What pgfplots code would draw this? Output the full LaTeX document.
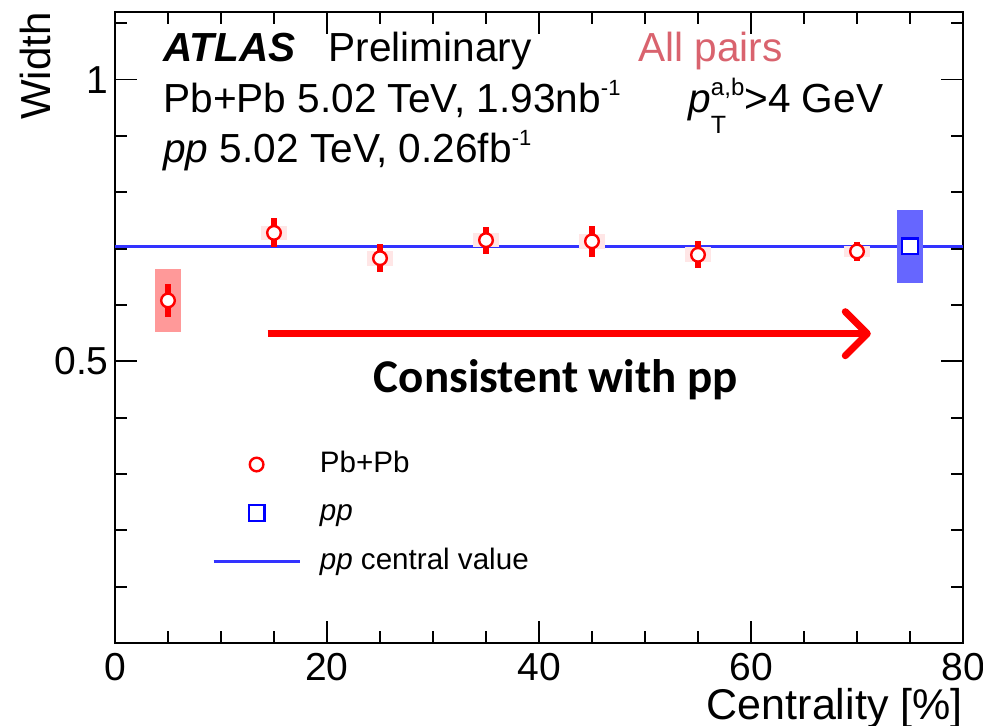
\documentclass[border=0pt]{standalone}
\usepackage{fontspec}
\setmainfont{Liberation Sans}
\newfontfamily\calibri{Carlito}
\usepackage{pgfplots}
\pgfplotsset{compat=1.18}
\usepackage{pgfplotstable}
\usetikzlibrary{arrows.meta}

\definecolor{sysred}{RGB}{255,153,153}
\definecolor{sysredlight}{RGB}{255,230,230}
\definecolor{sysblue}{RGB}{102,102,255}
\definecolor{ppline}{RGB}{51,51,255}
\definecolor{pairs}{RGB}{217,99,110}

% legend images: a single centred mark, or a plain line
\pgfplotsset{
  markimage/.style={legend image code/.code={\path (0pt,0pt) (43pt,0pt);
    \draw[##1] plot coordinates {(21.5pt,0pt)};}},
  lineimage/.style={legend image code/.code={\draw[##1] (0pt,0pt) -- (43pt,0pt);}},
}

% superscript in the header lines
\newcommand{\sups}[1]{\raisebox{8.5pt}{\fontsize{11}{11}\selectfont #1}}

% Pb+Pb widths vs centrality: value, statistical and systematic uncertainty
\pgfplotstableread{
cent width stat sys
5  0.608 0.030 0.056
15 0.728 0.026 0.013
25 0.683 0.025 0.013
35 0.715 0.024 0.013
45 0.713 0.028 0.013
55 0.689 0.024 0.013
70 0.695 0.017 0.010
}\pbpb

% pp reference, drawn beside the centrality bins
\pgfplotstableread{
cent width stat sys
75 0.704 0.0 0.0645
}\pp

\begin{document}
\begin{tikzpicture}
\useasboundingbox (-57.5pt,-41.5pt) rectangle (434pt,321.5pt);
\begin{axis}[
  at={(0pt,0pt)}, anchor=south west,
  scale only axis, width=424pt, height=315.5pt,
  xmin=0, xmax=80, ymin=0, ymax=1.12,
  xtick={0,20,40,60,80}, minor x tick num=3,
  ytick={0.5,1}, minor ytick={0.1,0.2,0.3,0.4,0.6,0.7,0.8,0.9,1.1},
  tick align=inside,
  major tick length=11pt, minor tick length=6pt,
  axis line style={line width=1.1pt},
  every tick/.style={black, line width=0.9pt},
  /pgf/number format/assume math mode=true,
  tick label style={font=\fontsize{19.5}{20}\selectfont},
  xticklabel style={inner sep=0pt, yshift=-5pt},
  yticklabel style={inner sep=0pt, xshift=-3pt},
  xlabel={Centrality [\%]}, ylabel={Width},
  xlabel style={at={([yshift=-22.5pt]rel axis cs:1,0)}, anchor=north east,
    inner sep=0pt, font=\fontsize{21.5}{22}\selectfont},
  ylabel style={at={([xshift=-40pt]rel axis cs:0,1)}, anchor=east,
    inner sep=0pt, font=\fontsize{21}{22}\selectfont},
  legend style={at={(rel axis cs:0.1144,0.206)}, anchor=west,
    draw=none, fill=none, inner sep=0pt,
    font=\fontsize{14.8}{15}\selectfont,
    row sep=9.75pt,
    nodes={inner sep=0pt, text height=11pt, text depth=3.5pt},
    /tikz/every odd column/.append style={column sep=9.5pt}},
  legend cell align=left,
  clip=false,
]

% pp central value across the full range
\addplot[ppline, line width=1.2pt, forget plot] coordinates {(0,0.704) (80,0.704)};

% systematic uncertainty boxes
\addplot[forget plot, only marks, mark=none, skip coords between index={0}{1},
  error bars/.cd, y dir=both, y explicit, error mark=none,
  error bar style={line width=13pt, draw=sysredlight}]
  table[x=cent, y=width, y error=sys] {\pbpb};
\addplot[forget plot, only marks, mark=none, skip coords between index={1}{7},
  error bars/.cd, y dir=both, y explicit, error mark=none,
  error bar style={line width=13pt, draw=sysred}]
  table[x=cent, y=width, y error=sys] {\pbpb};
\addplot[forget plot, only marks, mark=none,
  error bars/.cd, y dir=both, y explicit, error mark=none,
  error bar style={line width=13pt, draw=sysblue}]
  table[x=cent, y=width, y error=sys] {\pp};

% statistical uncertainty bars
\addplot[forget plot, only marks, mark=none,
  error bars/.cd, y dir=both, y explicit, error mark=none,
  error bar style={line width=3.2pt, draw=red}]
  table[x=cent, y=width, y error=stat] {\pbpb};

% markers
\addplot[only marks, mark=*, mark size=3.4pt,
  mark options={draw=red, fill=white, line width=1.2pt}, markimage]
  table[x=cent, y=width] {\pbpb};
\addlegendentry{Pb+Pb}
\addplot[only marks, mark=square*, mark size=3.9pt,
  mark options={draw=blue, fill=white, line width=1.2pt}, markimage]
  table[x=cent, y=width] {\pp};
\addlegendentry{\textit{pp}}
\addlegendimage{ppline, line width=1.2pt, lineimage}
\addlegendentry{\textit{pp} central value}

% header
\begin{scope}[every node/.style={anchor=base west, inner sep=0pt,
    font=\fontsize{20.3}{22}\selectfont}]
\node at ([xshift=24pt,yshift=-25pt]rel axis cs:0,1) {\textbf{\textit{ATLAS}}};
\node at ([xshift=106.5pt,yshift=-25pt]rel axis cs:0,1) {Preliminary};
\node[text=pairs] at ([xshift=261.5pt,yshift=-25pt]rel axis cs:0,1) {All pairs};
\node at ([xshift=24pt,yshift=-50.5pt]rel axis cs:0,1) {Pb+Pb 5.02 TeV, 1.93nb\sups{-1}};
\node at ([xshift=286.5pt,yshift=-50.5pt]rel axis cs:0,1)
  {\textit{p}\rlap{\raisebox{-10.5pt}{\fontsize{12.5}{13}\selectfont T}}\raisebox{8.5pt}{\fontsize{12}{12}\selectfont a,b}>4 GeV};
\node at ([xshift=24pt,yshift=-75.5pt]rel axis cs:0,1) {\textit{pp} 5.02 TeV, 0.26fb\sups{-1}};
\end{scope}

% annotation
\draw[red, line width=3.5pt, -{Straight Barb[length=11pt, width=22pt, round]}]
  (axis cs:14.4,0.549) -- (axis cs:71.3,0.549);
\node[anchor=base, inner sep=0pt, font=\calibri\bfseries\fontsize{23.5}{24}\selectfont]
  at (axis cs:41.6,0.444) {Consistent with pp};

\end{axis}
\end{tikzpicture}
\end{document}
